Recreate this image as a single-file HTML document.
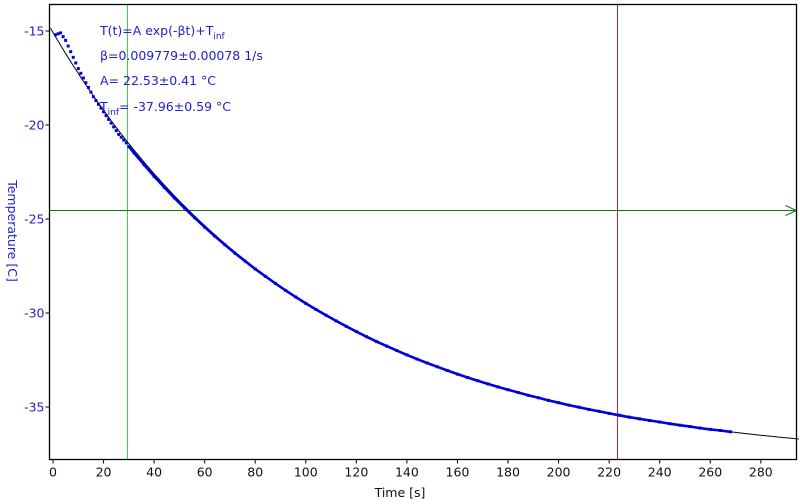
<!DOCTYPE html>
<html><head><meta charset="utf-8"><style>
body{margin:0;background:#fff}
svg{display:block;font-family:"DejaVu Sans","Liberation Sans",sans-serif}
</style></head><body>
<svg id="chart" width="800" height="504" viewBox="0 0 800 504">
<rect x="0" y="0" width="800" height="504" fill="#fff"/>
<g id="grid"></g>
<g id="plot"></g>
<g id="axes"></g>
<g fill="#2222cc" font-size="12.5">
<text x="100" y="35">T(t)=A exp(-βt)+T<tspan font-size="9" dy="4">inf</tspan></text>
<text x="100" y="60">β=0.009779±0.00078 1/s</text>
<text x="100" y="85">A= 22.53±0.41 °C</text>
<text x="100" y="111">T<tspan font-size="9" dy="4">inf</tspan><tspan dy="-4">= -37.96±0.59 °C</tspan></text>
</g>
<text x="400" y="497" text-anchor="middle" font-size="12.5" fill="#111">Time [s]</text>
<text transform="translate(8,231) rotate(90)" text-anchor="middle" font-size="12.5" fill="#2222cc">Temperature [C]</text>
</svg>
<script>
const times=[1,2,3,4,5,6,7,8,9,10,11,12,13,14,15,16,17,18,19,20,21,22,23,24,25,26,27,28,29,30,32,36,40,44,48,52,56,60,64,68,72,76,80,84,88,92,96,100,104,108,112,116,120,124,128,132,136,140,144,148,152,156,160,164,168,172,176,180,184,188,192,196,200,204,208,212,216,220,224,228,232,236,240,244,248,252,256,260,264,268];
const temps=[-15.2,-15.15,-15.1,-15.3,-15.5,-15.8,-16.1,-16.4,-16.7,-17.0,-17.25,-17.5,-17.75,-18.0,-18.25,-18.5,-18.7,-18.9,-19.1,-19.3,-19.5,-19.7,-19.9,-20.1,-20.3,-20.5,-20.65,-20.8,-20.95,-21.15,-21.48,-22.11,-22.73,-23.31,-23.87,-24.41,-24.93,-25.43,-25.91,-26.37,-26.82,-27.24,-27.66,-28.05,-28.43,-28.80,-29.15,-29.49,-29.81,-30.12,-30.42,-30.71,-30.99,-31.26,-31.52,-31.76,-32.00,-32.23,-32.45,-32.66,-32.86,-33.06,-33.25,-33.43,-33.60,-33.77,-33.93,-34.08,-34.23,-34.38,-34.51,-34.65,-34.77,-34.90,-35.01,-35.13,-35.23,-35.34,-35.44,-35.54,-35.63,-35.72,-35.80,-35.89,-35.97,-36.04,-36.12,-36.19,-36.25,-36.32];
const fitParams=[22.53,0.009779,-37.96];
const xTicks=[0,20,40,60,80,100,120,140,160,180,200,220,240,260,280];
const yTicks=[-15,-20,-25,-30,-35];
const cursorX=[29.4,223];
const cursorY=[-24.5];

const L=49.5,R=796.5,T=4.5,B=459.5;
const X=t=>53+t*2.528;
const Y=v=>31+(-15-v)*18.8;
const snap=v=>Math.round(v)+0.5;
const NS="http://www.w3.org/2000/svg";
function mk(tag,attrs,parent){const e=document.createElementNS(NS,tag);for(const k in attrs)e.setAttribute(k,attrs[k]);document.getElementById(parent).appendChild(e);return e;}

let e=mk('line',{x1:snap(X(cursorX[0])),x2:snap(X(cursorX[0])),y1:T,y2:B,stroke:'#33dd33','stroke-width':1},'grid');


e=mk('line',{x1:snap(X(cursorX[1])),x2:snap(X(cursorX[1])),y1:T,y2:B,stroke:'#cc2222','stroke-width':1},'grid');


e=mk('line',{x1:L,x2:R,y1:snap(Y(cursorY[0])),y2:snap(Y(cursorY[0])),stroke:'#117711','stroke-width':1},'grid');


e=mk('polyline',{points:`${R-11},${snap(Y(cursorY[0]))-5} ${R},${snap(Y(cursorY[0]))} ${R-11},${snap(Y(cursorY[0]))+5}`,fill:'none',stroke:'#117711','stroke-width':1},'grid');



let pts=[];
for(let t=-1;t<=295;t+=1){pts.push(X(t).toFixed(1)+','+Y(fitParams[0]*Math.exp(-fitParams[1]*t)+fitParams[2]+0.35*Math.exp(-t/40)).toFixed(1));}
e=mk('polyline',{points:pts.join(' '),fill:'none',stroke:'#000','stroke-width':1},'plot');



let dp=[];
times.forEach((t,i)=>{if(t>=30)dp.push(X(t).toFixed(1)+','+Y(temps[i]).toFixed(1));});
e=mk('polyline',{points:dp.join(' '),fill:'none',stroke:'#0000dd','stroke-width':2.6},'plot');


times.forEach((t,i)=>{
  const p=mk('rect',{x:X(t)-1.5,y:Y(temps[i])-1.5,width:3,height:3,fill:'#0000dd'},'plot');
  
  
});

e=mk('rect',{x:L,y:T,width:R-L,height:B-T,fill:'none',stroke:'#000','stroke-width':1.3},'axes');


xTicks.forEach(v=>{
  const l=mk('line',{x1:X(v),x2:X(v),y1:B,y2:B+4,stroke:'#000'},'axes');
  
  
  const tx=mk('text',{x:X(v),y:B+17,'text-anchor':'middle','font-size':12.5,fill:'#111'},'axes');
  tx.textContent=v;
  
  
});
yTicks.forEach(v=>{
  const l=mk('line',{x1:L-4,x2:L,y1:Y(v),y2:Y(v),stroke:'#000'},'axes');
  
  
  const tx=mk('text',{x:L-5,y:Y(v)+4.5,'text-anchor':'end','font-size':12.5,fill:'#2222cc'},'axes');
  tx.textContent=v;
  
  
});
</script>
</body></html>
